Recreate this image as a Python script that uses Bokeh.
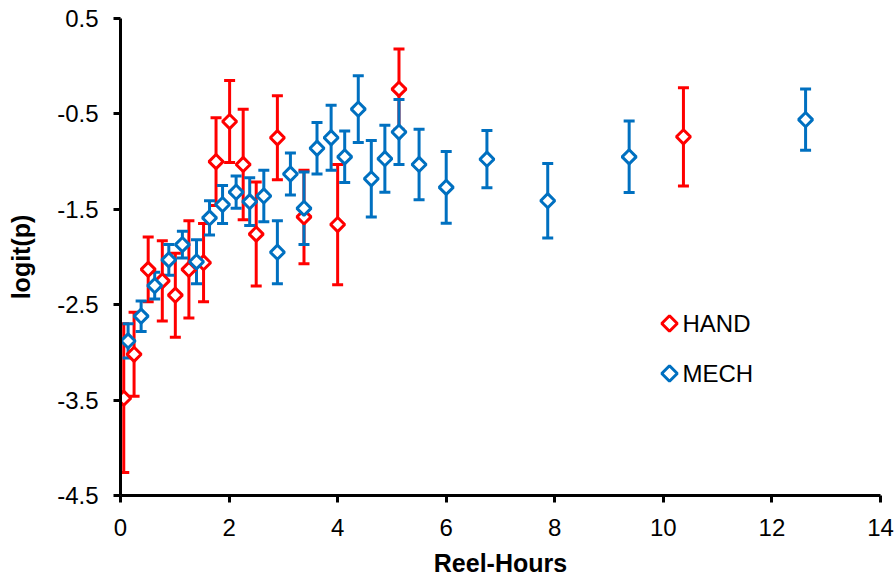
import numpy as np
from bokeh.plotting import figure
from bokeh.models import (ColumnDataSource, Whisker, TeeHead, Range1d, FixedTicker)
from bokeh.core.properties import value
from bokeh.embed import file_html
from bokeh.resources import INLINE

# ---- data ----
hand_x = [0.06, 0.25, 0.51, 0.77, 1.01, 1.26, 1.53, 1.76, 2.01, 2.26, 2.50, 2.89, 3.38, 4.00, 5.13, 10.37]
hand_y = [-3.48, -3.02, -2.13, -2.25, -2.40, -2.13, -2.06, -1.00, -0.58, -1.03, -1.76, -0.75, -1.58, -1.66, -0.24, -0.74]
hand_err = [0.78, 0.44, 0.34, 0.42, 0.44, 0.51, 0.41, 0.46, 0.43, 0.58, 0.545, 0.44, 0.49, 0.63, 0.42, 0.515]

mech_x = [0.14, 0.38, 0.63, 0.89, 1.14, 1.40, 1.64, 1.88, 2.13, 2.38, 2.64, 2.89, 3.13, 3.38,
          3.62, 3.88, 4.13, 4.38, 4.62, 4.87, 5.13, 5.50, 6.00, 6.75, 7.87, 9.37, 12.62]
mech_y = [-2.88, -2.62, -2.30, -2.03, -1.87, -2.05, -1.59, -1.45, -1.32, -1.42, -1.36, -1.95, -1.13, -1.49,
          -0.86, -0.75, -0.95, -0.45, -1.18, -0.97, -0.69, -1.03, -1.27, -0.975, -1.41, -0.95, -0.56]
mech_err = [0.18, 0.16, 0.14, 0.16, 0.14, 0.23, 0.18, 0.20, 0.17, 0.25, 0.27, 0.33, 0.22, 0.38,
            0.27, 0.34, 0.27, 0.35, 0.40, 0.35, 0.34, 0.37, 0.375, 0.30, 0.39, 0.375, 0.32]

series_names = ["HAND", "MECH"]
x_ticks = [0, 2, 4, 6, 8, 10, 12, 14]
y_ticks = [0.5, -0.5, -1.5, -2.5, -3.5, -4.5]
y_tick_labels = ["0.5", "-0.5", "-1.5", "-2.5", "-3.5", "-4.5"]

RED = "#FF0000"
BLUE = "#0070C0"
FONT = "Liberation Sans"

FRAME_W, FRAME_H = 760, 477

p = figure(frame_width=FRAME_W, frame_height=FRAME_H, output_backend="svg", toolbar_location=None,
           x_range=Range1d(0, 14), y_range=Range1d(-4.5, 0.5),
           min_border_left=120, min_border_right=14, min_border_top=18, min_border_bottom=80)
p.outline_line_color = None
p.xgrid.visible = False
p.ygrid.visible = False
p.background_fill_color = "white"
p.border_fill_color = "white"

# pixel-space ranges for the legend block
p.extra_x_ranges = {"px": Range1d(0, FRAME_W)}
p.extra_y_ranges = {"px": Range1d(0, FRAME_H)}


def series(xs, ys, errs, color):
    src = ColumnDataSource(dict(x=xs, y=ys,
                                upper=[a + b for a, b in zip(ys, errs)],
                                lower=[a - b for a, b in zip(ys, errs)]))
    w = Whisker(source=src, base="x", upper="upper", lower="lower", dimension="height",
                line_color=color, line_width=3,
                upper_head=TeeHead(size=11, line_color=color, line_width=3),
                lower_head=TeeHead(size=11, line_color=color, line_width=3))
    p.add_layout(w)
    p.scatter("x", "y", source=src, marker="square", angle=np.pi / 4, size=10,
              fill_color="white", line_color=color, line_width=3)


series(hand_x, hand_y, hand_err, RED)
series(mech_x, mech_y, mech_err, BLUE)

for ax in (p.xaxis[0], p.yaxis[0]):
    ax.axis_line_width = 3
    ax.axis_line_color = "black"
    ax.major_tick_line_width = 3
    ax.major_tick_line_color = "black"
    ax.major_tick_out = 7
    ax.major_tick_in = 0
    ax.minor_tick_line_color = None
    ax.major_label_text_font = FONT
    ax.major_label_text_font_size = "24px"
    ax.major_label_text_color = "black"
    ax.axis_label_text_font = FONT
    ax.axis_label_text_font_size = "25px"
    ax.axis_label_text_font_style = "bold"
    ax.axis_label_text_color = "black"

p.xaxis.ticker = FixedTicker(ticks=x_ticks)
p.yaxis.ticker = FixedTicker(ticks=y_ticks)
p.yaxis.major_label_overrides = {t: s for t, s in zip(y_ticks, y_tick_labels)}
p.xaxis.axis_label = "Reel-Hours"
p.yaxis.axis_label = "logit(p)"
p.xaxis.major_label_standoff = 16
p.yaxis.major_label_standoff = 15
p.xaxis.axis_label_standoff = 10
p.yaxis.axis_label_standoff = 19

# legend (drawn in pixel space of the plot frame)
leg_src = ColumnDataSource(dict(x=[549, 549], y=[172, 122], name=series_names, color=[RED, BLUE],
                                tx=[562, 562]))
p.scatter("x", "y", source=leg_src, marker="square", angle=np.pi / 4, size=11,
          fill_color="white", line_color="color", line_width=3,
          x_range_name="px", y_range_name="px")
p.text("tx", "y", text="name", source=leg_src, x_range_name="px", y_range_name="px",
       text_font=value(FONT), text_font_size="24px", text_color="black",
       text_align="left", text_baseline="middle")

open("out.html", "w").write(file_html(p, INLINE))
